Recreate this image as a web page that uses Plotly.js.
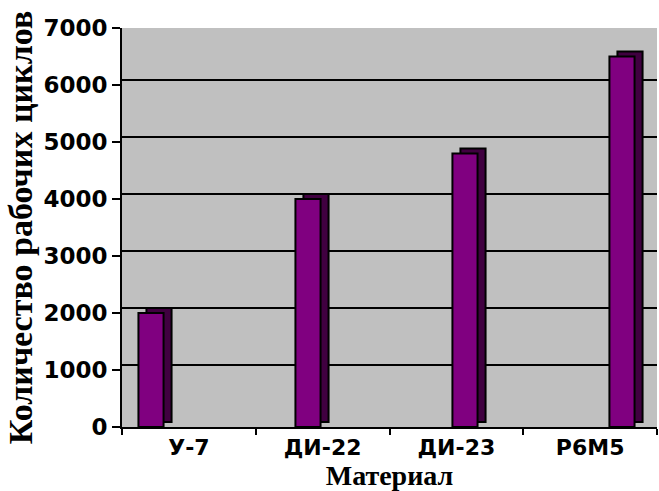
<!DOCTYPE html>
<html>
<head>
<meta charset="utf-8">
<script src="https://cdn.plot.ly/plotly-3.0.1.min.js"></script>
<style>html,body{margin:0;padding:0;background:#fff}#chart{width:659px;height:491px}</style>
</head>
<body>
<div id="chart"></div>
<script>
var categories = ["У-7", "ДИ-22", "ДИ-23", "Р6М5"];
var values = [2000, 4000, 4800, 6500];
var yTicks = [0, 1000, 2000, 3000, 4000, 5000, 6000, 7000];
var positions = [0, 1, 2, 3];

function bold(s) { return "<b>" + s + "</b>"; }

var titleFont = {family: "Liberation Serif", size: 34, color: "#000"};

var traces = [
  {type: "scatter", x: categories, y: values, xaxis: "x", yaxis: "y",
   mode: "markers", marker: {opacity: 0}, hoverinfo: "skip", showlegend: false},
  {type: "bar", x: positions, y: values, xaxis: "x2", yaxis: "y2", width: 0.16,
   marker: {color: "#400040", line: {color: "#000", width: 2}}, showlegend: false},
  {type: "bar", x: positions, y: values, xaxis: "x3", yaxis: "y", width: 0.16,
   marker: {color: "#800080", line: {color: "#000", width: 2}}, showlegend: false}
];

var layout = {
  width: 659, height: 491,
  margin: {l: 122, r: 2, t: 28, b: 64},
  paper_bgcolor: "#ffffff",
  plot_bgcolor: "#c0c0c0",
  showlegend: false,
  xaxis: {
    type: "category", categoryarray: categories, range: [-0.5, 3.5],
    tickmode: "array", tickvals: categories, ticktext: categories.map(bold),
    showline: true, linecolor: "#000", linewidth: 2,
    ticks: "outside", tickson: "boundaries", ticklen: 6, tickwidth: 2, tickcolor: "#000",
    tickfont: {family: "DejaVu Sans", size: 22, color: "#000"},
    showgrid: false, zeroline: false, fixedrange: true,
    title: {text: bold("Материал"), font: {family: "Liberation Serif", size: 28, color: "#000"}},
    automargin: false
  },
  yaxis: {
    range: [0, 7000], tickmode: "array", tickvals: yTicks, ticktext: yTicks.map(bold),
    showline: true, linecolor: "#000", linewidth: 2,
    ticks: "outside", ticklen: 8, tickwidth: 2, tickcolor: "#000",
    tickfont: {family: "DejaVu Sans", size: 23, color: "#000"},
    showgrid: false, zeroline: false, fixedrange: true,
    title: {text: bold("Количество рабочих циклов"), font: titleFont, standoff: 0},
    automargin: false
  },
  xaxis2: {overlaying: "x", range: [-0.2357, 3.172], visible: false, fixedrange: true},
  yaxis2: {overlaying: "y", range: [-88, 6912], tickvals: yTicks.slice(1),
    showgrid: true, gridcolor: "#000", gridwidth: 2, showticklabels: false,
    ticks: "", showline: false, zeroline: false, fixedrange: true},
  xaxis3: {overlaying: "x", range: [-0.1847, 3.223], visible: false, fixedrange: true}
};

Plotly.newPlot("chart", traces, layout, {staticPlot: true});
</script>
</body>
</html>
